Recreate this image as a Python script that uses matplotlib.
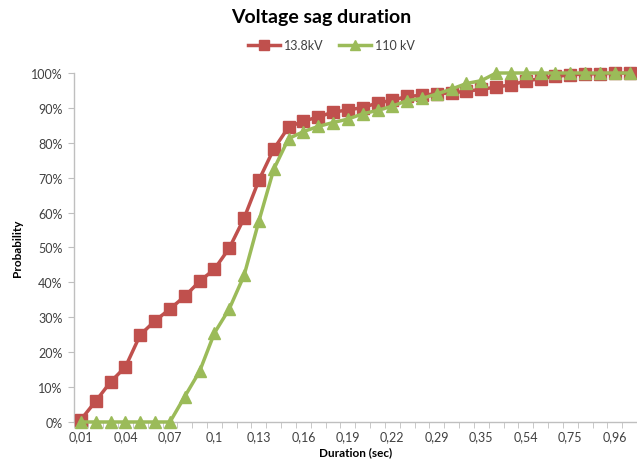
import numpy as np
import matplotlib
matplotlib.use('Agg')
import matplotlib.pyplot as plt

plt.rcParams['font.family'] = ['Lato', 'DejaVu Sans']

# durations (categories), only every third one is labelled in the chart
durations = ['0,01', '0,02', '0,03', '0,04', '0,05', '0,06', '0,07', '0,08', '0,09', '0,1',
             '0,11', '0,12', '0,13', '0,14', '0,15', '0,16', '0,17', '0,18', '0,19', '0,2',
             '0,21', '0,22', '0,24', '0,26', '0,29', '0,31', '0,33', '0,35', '0,41', '0,48',
             '0,54', '0,61', '0,68', '0,75', '0,82', '0,89', '0,96', '1']

# cumulative probability in %
p_13kv = [0.7, 6.0, 11.5, 15.8, 25.0, 29.0, 32.4, 36.0, 40.3, 43.8,
          49.8, 58.4, 69.3, 78.2, 84.5, 86.2, 87.4, 88.8, 89.4, 90.1,
          91.4, 92.2, 93.3, 93.6, 94.1, 94.3, 94.8, 95.3, 96.0, 96.6,
          97.7, 98.4, 99.0, 99.5, 99.7, 99.8, 99.9, 100.0]
p_110kv = [0, 0, 0, 0, 0, 0, 0, 7.3, 14.5, 25.5,
           32.4, 42.0, 57.6, 72.4, 81.2, 83.2, 84.7, 85.8, 86.8, 88.3,
           89.3, 90.5, 92.1, 92.7, 94.0, 95.4, 97.0, 97.8, 100, 100,
           100, 100, 100, 100, 100, 100, 100, 100]

red = '#C0504D'
green = '#9BBB59'
grey = '#BFBFBF'
txt = '#404040'

x = np.arange(len(durations))

fig = plt.figure(figsize=(6.37, 4.64), dpi=100)
ax = fig.add_axes([0.1155, 0.0884, 0.8845, 0.7521])

ax.plot(x, p_13kv, color=red, lw=2.5, marker='s', ms=8.5, label='13.8kV', clip_on=False, zorder=3)
ax.plot(x, p_110kv, color=green, lw=2.5, marker='^', ms=8.5, label='110 kV', clip_on=False, zorder=4)

ax.set_xlim(-0.5, len(durations) - 0.5)
ax.set_ylim(0, 100)

ax.set_xticks(x[::3])
ax.set_xticklabels(durations[::3])
ax.set_xticks(np.arange(-0.5, len(durations)), minor=True)
ax.tick_params(axis='x', which='major', length=0, pad=6, labelsize=9, labelcolor=txt)
ax.tick_params(axis='x', which='minor', length=4, color=grey, direction='out')

ax.set_yticks(np.arange(0, 101, 10))
ax.set_yticklabels(['%d%%' % v for v in range(0, 101, 10)])
ax.tick_params(axis='y', length=4, color=grey, labelsize=9, labelcolor=txt, pad=4)

for s in ['top', 'right']:
    ax.spines[s].set_visible(False)
for s in ['left', 'bottom']:
    ax.spines[s].set_color(grey)
    ax.spines[s].set_linewidth(1)

ax.set_xlabel('Duration (sec)', fontsize=8.5, fontweight='bold', color='black', labelpad=3)
ax.set_ylabel('Probability', fontsize=8.5, fontweight='bold', color='black', labelpad=6)

fig.text(0.505, 0.962, 'Voltage sag duration', ha='center', va='center',
         fontsize=14, fontweight='bold', color='black')

fig.legend(loc='center', bbox_to_anchor=(0.52, 0.9), ncol=2, frameon=False,
           fontsize=9, handlelength=2.6, columnspacing=1.2, handletextpad=0.3,
           labelcolor=txt, markerscale=0.8)

fig.savefig('out.png', dpi=100)
